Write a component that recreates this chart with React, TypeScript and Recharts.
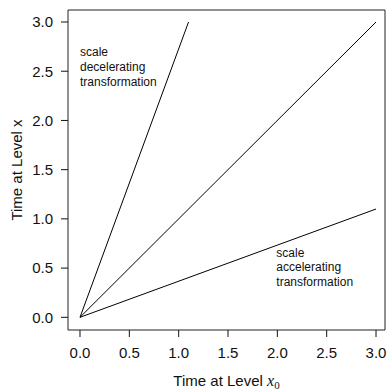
import React from "react";
import { LineChart, Line, XAxis, YAxis, ReferenceArea, ReferenceDot } from "recharts";

const decelerating = [
  { x: 0, y: 0 },
  { x: 1.1, y: 3.0 },
];
const identity = [
  { x: 0, y: 0 },
  { x: 3.0, y: 3.0 },
];
const accelerating = [
  { x: 0, y: 0 },
  { x: 3.0, y: 1.1 },
];
const xTicks = [0, 0.5, 1, 1.5, 2, 2.5, 3];
const yTicks = [0, 0.5, 1, 1.5, 2, 2.5, 3];
const xDomain: [number, number] = [-0.1216, 3.091];
const yDomain: [number, number] = [-0.129, 3.122];
const decelLabel = { x: 0, y: 2.655, lines: ["scale", "decelerating", "transformation"] };
const accelLabel = { x: 1.99, y: 0.616, lines: ["scale", "accelerating", "transformation"] };

const FONT = "'Liberation Sans', Arial, Helvetica, sans-serif";

const annot = (lines: string[]) => (props: any) => (
  <text x={props.cx} y={props.cy} fontFamily={FONT} fontSize={12} fill="#111">
    {lines.map((l, i) => (
      <tspan key={i} x={props.cx} dy={i === 0 ? 0 : 14.8}>
        {l}
      </tspan>
    ))}
  </text>
);

export default function App() {
  return (
    <div style={{ position: "absolute", left: 0, top: 0 }}>
      <LineChart
        width={389}
        height={390}
        margin={{ top: 10, right: 4, left: 0, bottom: 0 }}
      >
        <XAxis
          type="number"
          dataKey="x"
          domain={xDomain}
          ticks={xTicks}
          allowDataOverflow
          height={60}
          tickSize={7}
          tickMargin={10}
          axisLine={false}
          tickLine={{ stroke: "#111" }}
          tick={{ fill: "#111", fontSize: 15, fontFamily: FONT }}
          tickFormatter={(v: number) => v.toFixed(1)}
          label={{
            content: (p: any) => {
              const vb = p.viewBox;
              return (
                <text x={vb.x + vb.width / 2} y={386} textAnchor="middle" fontFamily={FONT} fontSize={15} fill="#111">
                  Time at Level{" "}
                  <tspan fontFamily="'Liberation Serif', 'DejaVu Serif', serif" fontStyle="italic" fontSize={16}>x</tspan>
                  <tspan fontFamily="'Liberation Serif', 'DejaVu Serif', serif" fontSize={11} dy={3}>0</tspan>
                </text>
              );
            },
          }}
        />
        <YAxis
          type="number"
          dataKey="y"
          domain={yDomain}
          ticks={yTicks}
          allowDataOverflow
          width={68}
          tickSize={7}
          tickMargin={8}
          axisLine={false}
          tickLine={{ stroke: "#111" }}
          tick={{ fill: "#111", fontSize: 15, fontFamily: FONT }}
          tickFormatter={(v: number) => v.toFixed(1)}
          label={{
            content: (p: any) => {
              const vb = p.viewBox;
              const cy = vb.y + vb.height / 2;
              return (
                <text x={22} y={cy} transform={`rotate(-90 22 ${cy})`} textAnchor="middle" fontFamily={FONT} fontSize={15} fill="#111">
                  Time at Level x
                </text>
              );
            },
          }}
        />
        <ReferenceArea
          x1={xDomain[0]}
          x2={xDomain[1]}
          y1={yDomain[0]}
          y2={yDomain[1]}
          fill="none"
          fillOpacity={0}
          stroke="#222"
          strokeWidth={1}
          ifOverflow="visible"
        />
        <Line data={decelerating} dataKey="y" stroke="#000" strokeWidth={1} dot={false} isAnimationActive={false} />
        <Line data={identity} dataKey="y" stroke="#000" strokeWidth={1} dot={false} isAnimationActive={false} />
        <Line data={accelerating} dataKey="y" stroke="#000" strokeWidth={1} dot={false} isAnimationActive={false} />
        <ReferenceDot x={decelLabel.x} y={decelLabel.y} r={0} ifOverflow="visible" shape={annot(decelLabel.lines)} />
        <ReferenceDot x={accelLabel.x} y={accelLabel.y} r={0} ifOverflow="visible" shape={annot(accelLabel.lines)} />
      </LineChart>
    </div>
  );
}
